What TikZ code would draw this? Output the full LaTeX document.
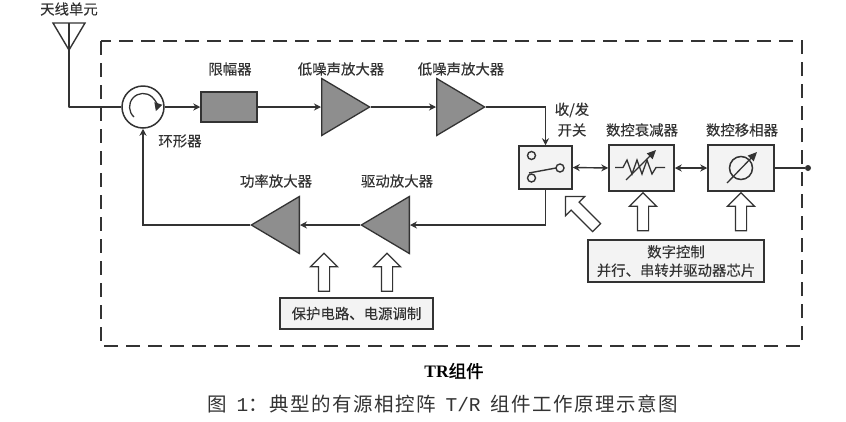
\documentclass[tikz,border=0pt]{standalone}
\usepackage{fontspec}
\setmainfont[FakeBold=0.15]{Noto Sans CJK SC}
\newfontfamily\mymono{Liberation Mono}
\newfontfamily\myserif{Liberation Serif}
\newfontfamily\capfont[LetterSpace=7.5]{Noto Sans CJK SC}
\usetikzlibrary{shapes.geometric,shapes.arrows,arrows.meta}
\definecolor{ink}{HTML}{333333}
\definecolor{fillgray}{HTML}{8E8E8E}
\definecolor{boxfill}{HTML}{F3F3F3}
\tikzset{
  x=1pt,y=-1pt,
  wire/.style={draw=ink,line width=1.4pt},
  flow/.style={wire,-{Stealth[length=7pt,width=7pt]}},
  both/.style={wire,{Stealth[length=7pt,width=7pt]}-{Stealth[length=7pt,width=7pt]}},
  amp/.style={isosceles triangle,isosceles triangle stretches,draw=ink,line width=1.3pt,fill=fillgray,inner sep=0pt,minimum width=57pt,minimum height=48pt,anchor=lower side},
  blockbox/.style={draw=ink,line width=1.5pt,fill=boxfill,inner sep=0pt},
  fatarrow/.style={single arrow,draw=ink,line width=1.2pt,fill=white,inner sep=0pt,minimum width=27pt,single arrow head extend=8pt,single arrow tip angle=90,single arrow head indent=0pt},
  lab/.style={text=ink,font=\fontsize{14.4}{17}\selectfont,inner sep=0pt,align=center},
}
\newcommand{\shaft}{\rule{0pt}{10pt}}
\begin{document}
\begin{tikzpicture}
\useasboundingbox (0,0) rectangle (846,421);
\fill[white] (0,0) rectangle (846,421);
% dashed frame
\draw[draw=ink,line width=1.5pt,dash pattern=on 14pt off 8pt] (101,41) rectangle (802,346);
% antenna
\coordinate (antL) at (53,23);
\coordinate (antR) at (85,23);
\coordinate (antA) at (69,50);
\coordinate (antT) at (69,23);
\coordinate (antC) at (69,107);
\draw[wire,line join=miter] (antL) -- (antR) -- (antA) -- cycle;
% blocks
\node[circle,draw=ink,line width=1.5pt,fill=white,minimum size=42pt,inner sep=0pt] (circ) at (143,107) {};
\node[blockbox,fill=fillgray,minimum width=56pt,minimum height=30pt] (lim) at (229,107) {};
\node[amp] (lna1) at (321,107) {};
\node[amp] (lna2) at (436,107) {};
\node[blockbox,minimum width=53pt,minimum height=43pt] (sw) at (545.5,167.5) {};
\node[blockbox,minimum width=65pt,minimum height=46pt] (att) at (641.5,168) {};
\node[blockbox,minimum width=66pt,minimum height=46pt] (ph) at (741,168) {};
\node[amp,shape border rotate=180] (drv) at (410,225) {};
\node[amp,shape border rotate=180] (pa) at (300,225) {};
\node[circle,fill=ink,minimum size=6pt,inner sep=0pt] (port) at (808,168) {};
% connectors
\draw[wire,line join=round] (antT) -- (antA) -- (antC) -- (circ.west);
\draw[flow] (circ.east) -- (lim.west);
\draw[flow] (lim.east) -- (lna1.lower side);
\draw[flow] (lna1.apex) -- (lna2.lower side);
\draw[flow] (lna2.apex) -| (sw.north);
\draw[both] (sw.east) -- (att.west);
\draw[both] (att.east) -- (ph.west);
\draw[wire] (ph.east) -- (port);
\draw[flow] (sw.south) |- (drv.lower side);
\draw[flow] (drv.apex) -- (pa.lower side);
\draw[flow] (pa.apex) -| (circ.south);
% circulator symbol
\draw[draw=ink,line width=1.3pt,-{Triangle[length=8pt,width=8pt]}] (134,117) arc[start angle=132,end angle=378,radius=13.5];
% switch symbol
\draw[draw=ink,line width=1.4pt,fill=boxfill] (531.5,155.5) circle[radius=4];
\draw[draw=ink,line width=1.4pt,fill=boxfill] (531.5,178) circle[radius=4];
\draw[draw=ink,line width=1.4pt,fill=boxfill] (560,168) circle[radius=4];
\draw[draw=ink,line width=1.4pt] (529,173) -- (556,168);
% attenuator symbol
\draw[draw=ink,line width=1.3pt,line join=miter] (615,167.5) -- (623,167.5) -- (627,160) -- (632,174) -- (637,160) -- (642,174) -- (647,160) -- (652,174) -- (656,167.5) -- (665,167.5);
\draw[draw=ink,line width=1.3pt,-{Triangle[length=9pt,width=8pt]}] (626,180) -- (656,150);
% phase symbol
\draw[draw=ink,line width=1.5pt] (741,168) circle[radius=11.5];
\draw[draw=ink,line width=1.3pt,-{Triangle[length=9pt,width=8pt]}] (727,183) -- (757,152);
% fat arrows
\node[fatarrow,rotate=90,minimum height=38pt] (fa1) at (324,275) {\shaft};
\node[fatarrow,rotate=90,minimum height=38pt] (fa2) at (387,275) {\shaft};
\node[fatarrow,rotate=90,minimum height=38pt] (fa3) at (643,214.5) {\shaft};
\node[fatarrow,rotate=90,minimum height=38pt] (fa4) at (741,214.5) {\shaft};
\node[fatarrow,rotate=135,minimum height=44pt] (fa5) at (583,214) {\shaft};
% control boxes
\node[blockbox,lab,minimum width=176pt,minimum height=42pt,line width=1.4pt] (ctl) at (676,261) {数字控制\\[1.5pt]并行、串转并驱动器芯片};
\node[blockbox,lab,minimum width=153pt,minimum height=31pt,line width=1.4pt] (prot) at (356.5,313.5) {保护电路、电源调制};
% labels
\node[lab] (t1) at (69,9) {天线单元};
\node[lab] (t2) at (230,69) {限幅器};
\node[lab] (t3) at (341,69) {低噪声放大器};
\node[lab] (t4) at (461,69) {低噪声放大器};
\node[lab] (t5) at (180,141) {环形器};
\node[lab] (t6) at (572,110) {收/发};
\node[lab] (t7) at (572,130) {开关};
\node[lab] (t8) at (642,130) {数控衰减器};
\node[lab] (t9) at (742,130) {数控移相器};
\node[lab] (t10) at (276,181) {功率放大器};
\node[lab] (t11) at (397,181) {驱动放大器};
\node[inner sep=0pt,text=black] (t12) at (454,371) {\fontsize{17.5}{20}\selectfont{\myserif\bfseries TR}\fontspec[FakeBold=1.2]{Noto Sans CJK SC}组件};
\node[inner sep=0pt,text=ink] (t13) at (442.5,404) {\fontsize{19.5}{24}\selectfont\capfont 图\hspace{10pt}{\mymono 1}\symbol{"FF1A}典型的有源相控阵\hspace{10pt}{\mymono T/R}\hspace{10pt}组件工作原理示意图};
\end{tikzpicture}
\end{document}
